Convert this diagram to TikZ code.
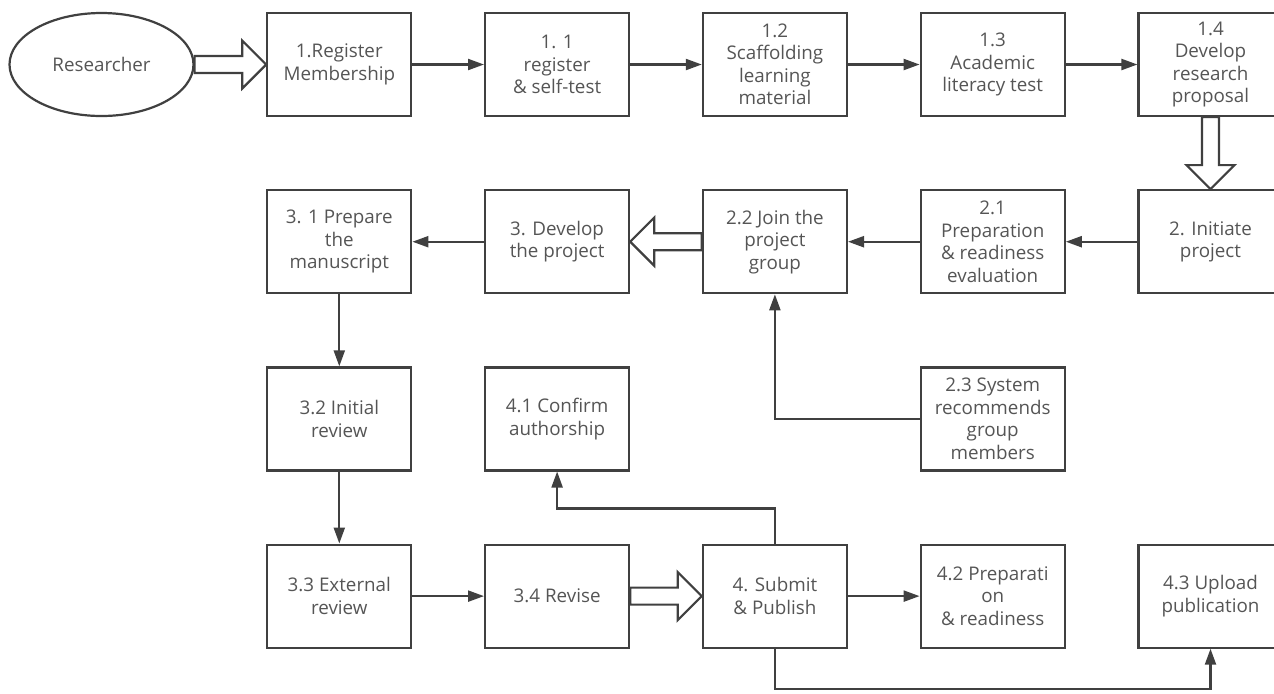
\documentclass[tikz,border=0pt]{standalone}
\usepackage{fontspec}
\setmainfont{Open Sans}
\usetikzlibrary{positioning, arrows.meta, shapes.geometric, calc}
\definecolor{linecol}{RGB}{64,64,64}
\definecolor{textcol}{RGB}{85,85,85}
% толстая полая стрелка между двумя точками
\newcommand{\fatarrow}[2]{%
  \draw[fat] let \p1=(#1), \p2=(#2),
      \n1={veclen(\x2-\x1,\y2-\y1)},
      \n2={(\x2-\x1)/\n1}, \n3={(\y2-\y1)/\n1} in
      ({\x1-\n3*4.25pt},{\y1+\n2*4.25pt})
   -- ({\x2-\n2*12pt-\n3*4.25pt},{\y2-\n3*12pt+\n2*4.25pt})
   -- ({\x2-\n2*12pt-\n3*12pt},{\y2-\n3*12pt+\n2*12pt})
   -- (\p2)
   -- ({\x2-\n2*12pt+\n3*12pt},{\y2-\n3*12pt-\n2*12pt})
   -- ({\x2-\n2*12pt+\n3*4.25pt},{\y2-\n3*12pt-\n2*4.25pt})
   -- ({\x1+\n3*4.25pt},{\y1-\n2*4.25pt}) -- cycle;}

\begin{document}
\begin{tikzpicture}[
        node distance=36pt and 35.8pt, % Расстояние между блоками
        stage/.style={rectangle, draw=linecol, line width=1.1pt, minimum width=72pt, minimum height=51.5pt,
            inner sep=1pt, align=center, text=textcol, font=\fontsize{9.4pt}{11.25pt}\selectfont}, % Стиль блоков
        actor/.style={ellipse, draw=linecol, line width=1.1pt, minimum width=92pt, minimum height=51.5pt,
            inner sep=0pt, text=textcol, font=\fontsize{9.4pt}{11.25pt}\selectfont},
        link/.style={draw=linecol, line width=1.1pt, -{Triangle[length=8pt, width=5.5pt]}},
        fat/.style={draw=linecol, line width=1.1pt, fill=white, line join=miter},
    ]
    \useasboundingbox (0,0) rectangle (637pt,-346.5pt);

    % первая строка
    \node[actor] (res) at (50.75pt,-32.25pt) {Researcher};
    \node[stage, right=of res] (reg) {1.Register\\Membership};
    \node[stage, right=of reg] (selftest) {1. 1\\register\\\& self-test};
    \node[stage, right=of selftest] (scaff) {1.2\\Scaffolding\\learning\\material};
    \node[stage, right=of scaff] (literacy) {1.3\\Academic\\literacy test};
    \node[stage, right=of literacy] (proposal) {1.4\\Develop\\research\\proposal};

    % вторая строка
    \node[stage, below=of proposal] (initiate) {2. Initiate\\project};
    \node[stage, left=of initiate] (prep) {2.1\\Preparation\\\& readiness\\evaluation};
    \node[stage, left=of prep] (join) {2.2 Join the\\project\\group};
    \node[stage, left=of join] (develop) {3. Develop\\the project};
    \node[stage, left=of develop] (manuscript) {3. 1 Prepare\\the\\manuscript};

    % третья строка
    \node[stage, below=of manuscript] (initrev) {3.2 Initial\\review};
    \node[stage, below=of develop] (confirm) {4.1 Confirm\\authorship};
    \node[stage, below=of prep] (sysrec) {2.3 System\\recommends\\group\\members};

    % четвертая строка
    \node[stage, below=of initrev] (extrev) {3.3 External\\review};
    \node[stage, right=of extrev] (revise) {3.4 Revise};
    \node[stage, right=of revise] (submit) {4. Submit\\\& Publish};
    \node[stage, right=of submit] (readiness) {4.2 Preparati\\on\\\& readiness};
    \node[stage, right=of readiness] (upload) {4.3 Upload\\publication};

    % связи
    \fatarrow{res.east}{reg.west}
    \draw[link] (reg) -- (selftest);
    \draw[link] (selftest) -- (scaff);
    \draw[link] (scaff) -- (literacy);
    \draw[link] (literacy) -- (proposal);
    \fatarrow{proposal.south}{initiate.north}
    \draw[link] (initiate) -- (prep);
    \draw[link] (prep) -- (join);
    \fatarrow{join.west}{develop.east}
    \draw[link] (develop) -- (manuscript);
    \draw[link] (manuscript) -- (initrev);
    \draw[link] (initrev) -- (extrev);
    \draw[link] (sysrec.west) -| (join.south);
    \draw[link] (extrev) -- (revise);
    \fatarrow{revise.east}{submit.west}
    \draw[link] (submit) -- (readiness);
    \draw[link] (submit.north) -- ++(0,17.5pt) -| (confirm.south);
    \draw[link] (submit.south) -- ++(0,-20pt) -| (upload.south);
\end{tikzpicture}
\end{document}
